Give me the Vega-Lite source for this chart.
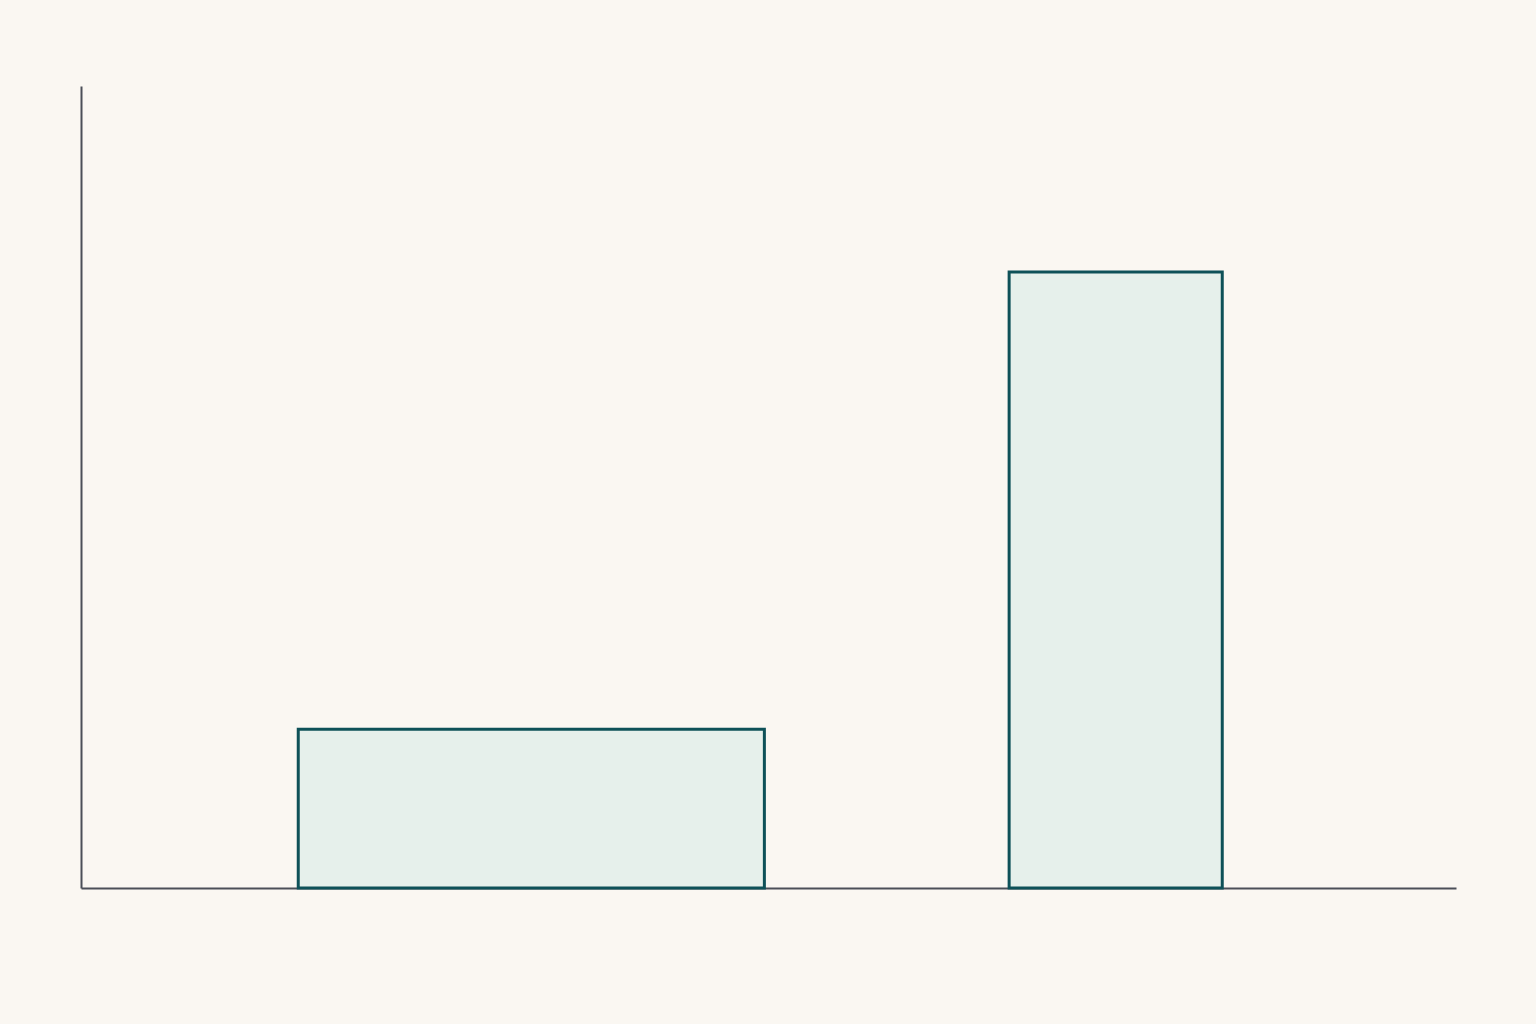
{
  "$schema": "https://vega.github.io/schema/vega-lite/v6.json",
  "autosize": "none",
  "width": 1375,
  "height": 802,
  "padding": {"left": 81, "top": 86, "right": 80, "bottom": 136},
  "background": "#faf7f2",
  "data": {
    "values": [
      {"start": 15.8, "end": 49.7, "base": 0, "value": 19.8},
      {"start": 67.5, "end": 83.0, "base": 0, "value": 76.8}
    ]
  },
  "mark": {
    "type": "bar",
    "fill": "#e6f0eb",
    "stroke": "#0e5158",
    "strokeWidth": 3
  },
  "encoding": {
    "x": {
      "field": "start",
      "type": "quantitative",
      "scale": {"domain": [0, 100], "nice": false},
      "axis": {"title": null, "labels": false, "ticks": false, "grid": false, "domainColor": "#4b4f58", "domainWidth": 2}
    },
    "x2": {"field": "end"},
    "y": {
      "field": "value",
      "type": "quantitative",
      "scale": {"domain": [0, 100], "nice": false},
      "axis": {"title": null, "labels": false, "ticks": false, "grid": false, "domainColor": "#4b4f58", "domainWidth": 2}
    },
    "y2": {"field": "base"}
  },
  "config": {
    "view": {"stroke": null}
  }
}
